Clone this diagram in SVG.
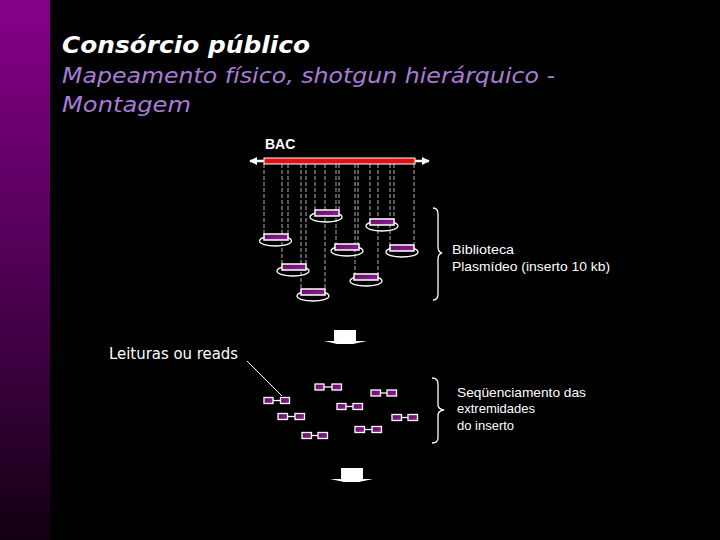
<svg xmlns="http://www.w3.org/2000/svg" width="720" height="540" viewBox="0 0 720 540">
<defs>
<linearGradient id="strip" x1="0" y1="0" x2="0" y2="1">
<stop offset="0" stop-color="#86008a"/>
<stop offset="0.55" stop-color="#4a004e"/>
<stop offset="1" stop-color="#120012"/>
</linearGradient>
<linearGradient id="frag" x1="0" y1="0" x2="1" y2="1">
<stop offset="0" stop-color="#55105f"/>
<stop offset="1" stop-color="#a01aa0"/>
</linearGradient>
<marker id="ah" viewBox="0 0 10 10" refX="9" refY="5" markerWidth="3.2" markerHeight="3.2" orient="auto-start-reverse" markerUnits="strokeWidth">
<path d="M0,0 L10,5 L0,10 Z" fill="#ffffff"/>
</marker>
</defs>
<style>
.title{font-family:"DejaVu Sans","Liberation Sans",sans-serif;font-style:italic;font-weight:bold;font-size:23px;fill:#ffffff}
.sub{font-family:"DejaVu Sans","Liberation Sans",sans-serif;font-style:italic;font-size:21px;fill:#a97bd6}
.lbl{font-family:"Liberation Sans",Arial,sans-serif;font-size:13px;fill:#ffffff}
.big{font-family:"DejaVu Sans","Liberation Sans",sans-serif;font-size:15px;fill:#ffffff}
.fr{fill:url(#frag);stroke:#ffffff;stroke-width:1.5}
.ell{fill:none;stroke:#ffffff;stroke-width:1.3}
.dash{stroke:#b0b0b0;stroke-width:1;stroke-dasharray:4 2;fill:none}
.rd{fill:url(#frag);stroke:#ffffff;stroke-width:1.3}
.link{stroke:#ffffff;stroke-width:1.3}
.brace{fill:none;stroke:#ffffff;stroke-width:1.3}
</style>
<rect x="0" y="0" width="720" height="540" fill="#000000"/>
<rect x="0" y="0" width="50" height="540" fill="url(#strip)"/>

<g id="title">
<text class="title" x="62" y="53" textLength="248" lengthAdjust="spacingAndGlyphs">Consórcio público</text>
<text class="sub" x="62" y="83" textLength="493" lengthAdjust="spacingAndGlyphs">Mapeamento físico, shotgun hierárquico -</text>
<text class="sub" x="62" y="112" textLength="129" lengthAdjust="spacingAndGlyphs">Montagem</text>
</g>

<g id="connectors">
<line x1="250" y1="161" x2="429" y2="161" stroke="#ffffff" stroke-width="2.5" marker-start="url(#ah)" marker-end="url(#ah)"/>
<line class="dash" x1="264" y1="164" x2="264" y2="234"/>
<line class="dash" x1="288" y1="164" x2="288" y2="234"/>
<line class="dash" x1="282" y1="164" x2="282" y2="264"/>
<line class="dash" x1="306" y1="164" x2="306" y2="264"/>
<line class="dash" x1="301" y1="164" x2="301" y2="289"/>
<line class="dash" x1="325" y1="164" x2="325" y2="289"/>
<line class="dash" x1="315" y1="164" x2="315" y2="210"/>
<line class="dash" x1="339" y1="164" x2="339" y2="210"/>
<line class="dash" x1="336" y1="164" x2="336" y2="244"/>
<line class="dash" x1="358" y1="164" x2="358" y2="244"/>
<line class="dash" x1="355" y1="164" x2="355" y2="274"/>
<line class="dash" x1="378" y1="164" x2="378" y2="274"/>
<line class="dash" x1="370" y1="164" x2="370" y2="219"/>
<line class="dash" x1="394" y1="164" x2="394" y2="219"/>
<line class="dash" x1="390" y1="164" x2="390" y2="245"/>
<line class="dash" x1="414" y1="164" x2="414" y2="245"/>
<line x1="247" y1="361" x2="282" y2="396" stroke="#ffffff" stroke-width="1"/>
<path d="M324,341 L334,341 L334,330 L356,330 L356,341 L367,341 L353,344 L337,344 Z" fill="#ffffff"/>
<path d="M330,479 L341,479 L341,468 L363,468 L363,479 L373,479 L359,482 L344,482 Z" fill="#ffffff"/>
</g>

<g id="bac">
<text x="265" y="149" font-family="Liberation Sans, Arial, sans-serif" font-weight="bold" font-size="14" fill="#ffffff">BAC</text>
<rect x="264" y="158" width="151" height="6" fill="#e31010" stroke="#ffffff" stroke-width="1"/>
</g>

<g id="fragments">
<g id="f1"><ellipse class="ell" cx="275.5" cy="241" rx="16" ry="5"/><rect class="fr" x="264" y="234" width="24" height="6"/></g>
<g id="f2"><ellipse class="ell" cx="326" cy="217" rx="16" ry="5"/><rect class="fr" x="315" y="210" width="24" height="6"/></g>
<g id="f3"><ellipse class="ell" cx="382" cy="226" rx="16" ry="5"/><rect class="fr" x="370" y="219" width="24" height="6"/></g>
<g id="f4"><ellipse class="ell" cx="347" cy="251" rx="16" ry="5"/><rect class="fr" x="335" y="244" width="24" height="6"/></g>
<g id="f5"><ellipse class="ell" cx="402" cy="252" rx="16" ry="5"/><rect class="fr" x="390" y="245" width="24" height="6"/></g>
<g id="f6"><ellipse class="ell" cx="293" cy="271" rx="16" ry="5"/><rect class="fr" x="282" y="264" width="24" height="6"/></g>
<g id="f7"><ellipse class="ell" cx="366" cy="281" rx="16" ry="5"/><rect class="fr" x="354" y="274" width="24" height="6"/></g>
<g id="f8"><ellipse class="ell" cx="313" cy="296" rx="16" ry="5"/><rect class="fr" x="301" y="289" width="24" height="6"/></g>
</g>

<g id="brace1">
<path class="brace" d="M433,208 Q438,208 438,214 L438,247 Q438,252 442,253 Q438,254 438,259 L438,294 Q438,300 433,300"/>
</g>
<g id="label1">
<text class="lbl" x="452" y="254" textLength="62" lengthAdjust="spacingAndGlyphs">Biblioteca</text>
<text class="lbl" x="452" y="271" textLength="158" lengthAdjust="spacingAndGlyphs">Plasmídeo (inserto 10 kb)</text>
</g>

<g id="label-reads">
<text class="big" x="109" y="359" textLength="129" lengthAdjust="spacingAndGlyphs">Leituras ou reads</text>
</g>

<g id="reads">
<g id="rA"><line class="link" x1="272" y1="400.5" x2="281" y2="400.5"/><rect class="rd" x="264" y="397.5" width="9" height="6"/><rect class="rd" x="280.5" y="397.5" width="9" height="6"/></g>
<g id="rB"><line class="link" x1="324" y1="387" x2="332" y2="387"/><rect class="rd" x="315" y="384" width="9" height="6"/><rect class="rd" x="332" y="384" width="9.5" height="6"/></g>
<g id="rC"><line class="link" x1="287" y1="416.5" x2="295" y2="416.5"/><rect class="rd" x="278" y="413.5" width="9.5" height="6"/><rect class="rd" x="295" y="413.5" width="9.5" height="6"/></g>
<g id="rD"><line class="link" x1="346" y1="406.5" x2="353" y2="406.5"/><rect class="rd" x="337" y="403.5" width="9" height="6"/><rect class="rd" x="353" y="403.5" width="9.5" height="6"/></g>
<g id="rE"><line class="link" x1="380" y1="393" x2="387" y2="393"/><rect class="rd" x="371" y="390" width="9.5" height="6"/><rect class="rd" x="387" y="390" width="9.5" height="6"/></g>
<g id="rF"><line class="link" x1="311" y1="435.5" x2="318" y2="435.5"/><rect class="rd" x="302" y="432.5" width="9.5" height="6"/><rect class="rd" x="318" y="432.5" width="9.5" height="6"/></g>
<g id="rG"><line class="link" x1="364" y1="429.5" x2="372" y2="429.5"/><rect class="rd" x="355" y="426.5" width="9.5" height="6"/><rect class="rd" x="372" y="426.5" width="9.5" height="6"/></g>
<g id="rH"><line class="link" x1="401" y1="417.5" x2="408" y2="417.5"/><rect class="rd" x="392" y="414.5" width="9.5" height="6"/><rect class="rd" x="408" y="414.5" width="9.5" height="6"/></g>
</g>

<g id="brace2">
<path class="brace" d="M432,378 Q438,378 438,384 L438,405 Q438,409 444,410 Q438,411 438,415 L438,438 Q438,443 432,443"/>
</g>
<g id="label2">
<text class="lbl" x="457" y="397" textLength="129" lengthAdjust="spacingAndGlyphs">Seqüenciamento das</text>
<text class="lbl" x="457" y="413">extremidades</text>
<text class="lbl" x="457" y="430">do inserto</text>
</g>
</svg>
